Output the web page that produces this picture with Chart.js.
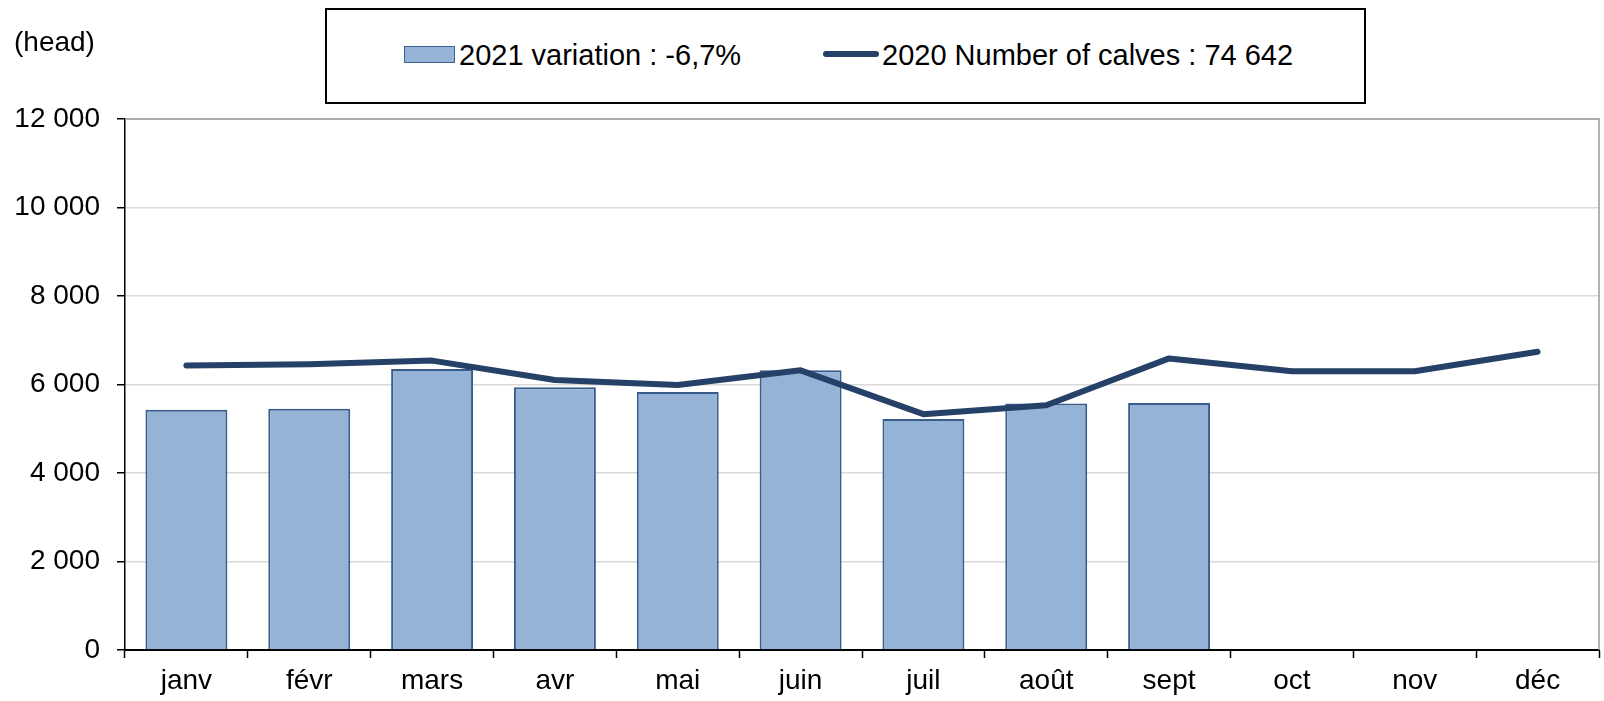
<!DOCTYPE html>
<html>
<head>
<meta charset="utf-8">
<script src="https://cdn.jsdelivr.net/npm/chart.js@4"></script>
<style>
  body { margin: 0; background: #fff; font-family: "Liberation Sans", Arial, sans-serif; }
  #wrap { position: relative; width: 1604px; height: 701px; }
  #chart { position: absolute; left: 0; top: 0; }
  .txt { position: absolute; font-size: 28px; line-height: 28px; color: #000; white-space: nowrap; }
  .leg { font-size: 29px; line-height: 29px; }
  #legend { position: absolute; left: 325px; top: 8px; width: 1037px; height: 92px; border: 2px solid #000; box-sizing: content-box; background: #fff; }
  .swatch-bar { position: absolute; width: 49px; height: 15px; background: #95B3D7; border: 1px solid #3B6290; }
  .swatch-line { position: absolute; height: 6px; border-radius: 3px; background: #254167; }
</style>
</head>
<body>
<div id="wrap">
  <canvas id="chart" width="1604" height="701"></canvas>
  <div class="txt" style="left:14px; top:28px;">(head)</div>
  <div id="legend">
    <div class="swatch-bar" style="left:77px; top:36px;"></div>
    <div class="txt leg" style="left:132px; top:31px;">2021 variation : -6,7%</div>
    <div class="swatch-line" style="left:496px; top:41px; width:56px;"></div>
    <div class="txt leg" style="left:555px; top:31px;">2020 Number of calves : 74 642</div>
  </div>
</div>
<script>
// Data
const months = ['janv', 'févr', 'mars', 'avr', 'mai', 'juin', 'juil', 'août', 'sept', 'oct', 'nov', 'déc'];
const calves2021 = [5430, 5450, 6350, 5940, 5830, 6320, 5220, 5570, 5580, null, null, null];
const calves2020 = [6430, 6460, 6540, 6100, 5990, 6320, 5330, 5530, 6590, 6300, 6300, 6740];
const yTicks = [0, 2000, 4000, 6000, 8000, 10000, 12000];

const FONT = { family: '"Liberation Sans", Arial, sans-serif', size: 28 };

// Gray frame on top and right of the plot area
const plotFrame = {
    id: 'plotFrame',
    afterDraw(chart) {
        const { ctx, chartArea } = chart;
        ctx.save();
        ctx.strokeStyle = '#9A9A9A';
        ctx.lineWidth = 1.5;
        ctx.beginPath();
        ctx.moveTo(chartArea.left, chartArea.top);
        ctx.lineTo(chartArea.right, chartArea.top);
        ctx.lineTo(chartArea.right, chartArea.bottom);
        ctx.stroke();
        ctx.restore();
    }
};

function formatThousands(v) {
    return String(v).replace(/\B(?=(\d{3})+(?!\d))/g, ' ');
}

new Chart(document.getElementById('chart'), {
    data: {
        labels: months,
        datasets: [
            {
                type: 'line',
                label: '2020 Number of calves : 74 642',
                data: calves2020,
                borderColor: '#254167',
                borderWidth: 6,
                borderCapStyle: 'round',
                borderJoinStyle: 'round',
                pointRadius: 0,
                tension: 0,
                order: 0
            },
            {
                type: 'bar',
                label: '2021 variation : -6,7%',
                data: calves2021,
                backgroundColor: '#95B3D7',
                borderColor: '#385D8A',
                borderWidth: 2,
                barPercentage: 0.667,
                categoryPercentage: 1,
                order: 1
            }
        ]
    },
    options: {
        responsive: false,
        animation: false,
        layout: { padding: { top: 119, right: 5, left: 0, bottom: 0 } },
        plugins: {
            legend: { display: false },
            tooltip: { enabled: false }
        },
        scales: {
            x: {
                offset: true,
                grid: {
                    offset: true,
                    drawOnChartArea: false,
                    drawTicks: true,
                    tickLength: 8,
                    tickColor: '#000',
                    tickWidth: 1.5
                },
                border: { color: '#000', width: 2 },
                ticks: { color: '#000', font: FONT, padding: 6, maxRotation: 0 },
                afterFit(scale) { scale.height = 51; }
            },
            y: {
                min: 0,
                max: 12000,
                afterBuildTicks(scale) { scale.ticks = yTicks.map(v => ({ value: v })); },
                grid: {
                    color: '#D9D9D9',
                    lineWidth: 1.5,
                    tickColor: '#000',
                    tickLength: 8,
                    tickWidth: 1.5
                },
                border: { color: '#000', width: 1.5 },
                ticks: { color: '#000', font: FONT, padding: 17, callback: v => formatThousands(v) },
                afterFit(scale) { scale.width = 125; }
            }
        }
    },
    plugins: [plotFrame]
});
</script>
</body>
</html>
